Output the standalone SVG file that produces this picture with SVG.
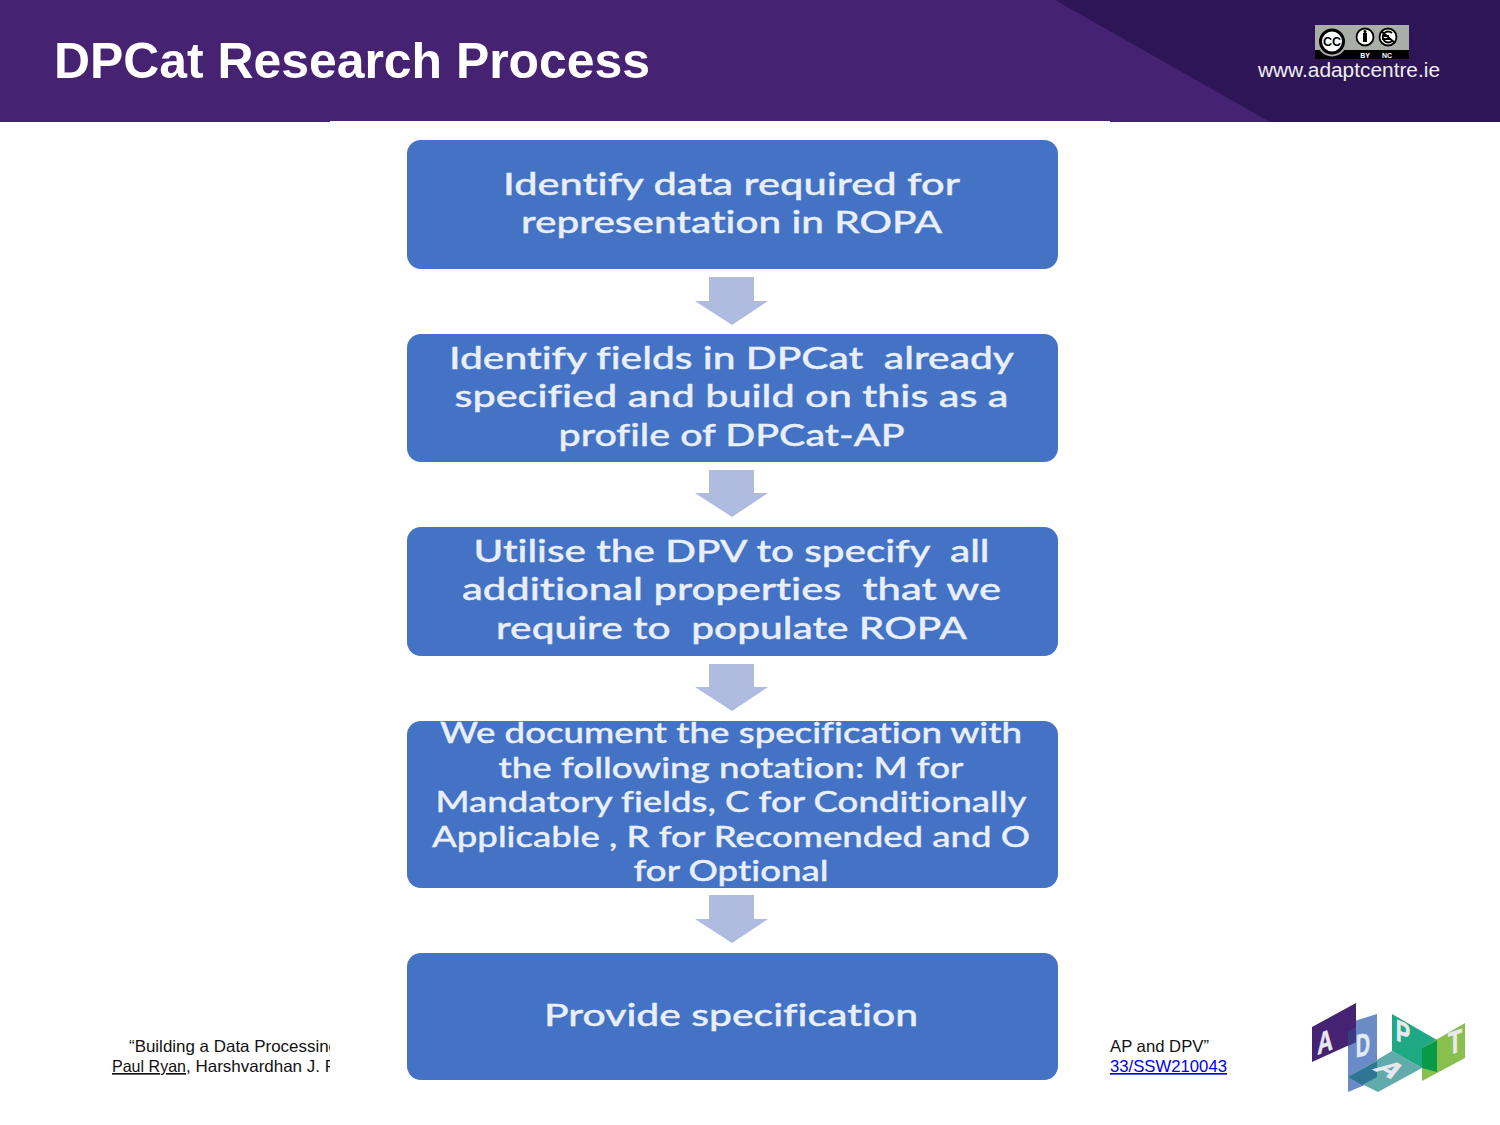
<svg xmlns="http://www.w3.org/2000/svg" width="1500" height="1125" viewBox="0 0 1500 1125">
<style>
.box{fill:#4472c4}
.arr{fill:#afbcdf}
.t{font-family:"Lato","Open Sans",sans-serif;fill:#e9eff8;text-anchor:middle;font-weight:500;white-space:pre;stroke:#e9eff8;stroke-width:.35;font-variant-ligatures:none}
.b{font-size:31px}
.s{font-size:28.5px}
.f{font-family:"Liberation Sans",Arial,sans-serif;font-size:16.5px;fill:#111}
.lg{font-family:"Liberation Sans",sans-serif;font-weight:700;fill:#e8e8ee;text-anchor:middle;stroke:#e8e8ee;stroke-width:.6}
.cct{font-family:"Liberation Sans",sans-serif;font-weight:700;text-anchor:middle}
</style>
<defs><clipPath id="lc"><rect x="0" y="1000" width="330" height="100"/></clipPath></defs>
<rect width="1500" height="1125" fill="#fff"/>
<g id="header">
<rect width="1500" height="122" fill="#452372"/>
<polygon points="1055,0 1500,0 1500,122 1270,122" fill="#2e1558"/>
<text x="54" y="78" font-family="Liberation Sans,Arial,sans-serif" font-weight="700" font-size="49.5" fill="#fff" textLength="596" lengthAdjust="spacingAndGlyphs">DPCat Research Process</text>
<text x="1258" y="77" font-family="Liberation Sans,Arial,sans-serif" font-size="20" fill="#eee" textLength="182" lengthAdjust="spacingAndGlyphs">www.adaptcentre.ie</text>
</g>
<g id="cc-badge">
<rect x="1315" y="25" width="94" height="34" fill="#a9aea8"/>
<rect x="1315" y="50" width="94" height="9" fill="#000"/>
<circle cx="1332" cy="41.500" r="15" fill="#a9aea8"/>
<circle cx="1332" cy="41.500" r="11.500" fill="#fff" stroke="#000" stroke-width="3"/>
<text class="cct" x="1332" y="46" font-size="12.500">CC</text>
<circle cx="1365" cy="37" r="8.500" fill="#fff" stroke="#000" stroke-width="1.800"/>
<rect x="1363" y="33" width="4" height="9" fill="#000"/>
<circle cx="1365" cy="31.500" r="1.500" fill="#000"/>
<circle cx="1388" cy="37" r="8.500" fill="#fff" stroke="#000" stroke-width="1.800"/>
<path d="M1392 33a5.500 5.500 0 1 0 0 8M1382 36h7M1382 39h7M1381 31l14 12" fill="none" stroke="#000" stroke-width="1.800"/>
<text class="cct" x="1365" y="57.500" font-size="7" fill="#fff">BY</text>
<text class="cct" x="1387" y="57.500" font-size="7" fill="#fff">NC</text>
</g>
<g id="footer-left" clip-path="url(#lc)">
<text class="f" x="129" y="1052" textLength="209" lengthAdjust="spacingAndGlyphs">“Building a Data Processing</text>
<text class="f" x="112" y="1072" text-decoration="underline" textLength="74" lengthAdjust="spacingAndGlyphs">Paul Ryan</text>
<text class="f" x="186" y="1072" textLength="150" lengthAdjust="spacingAndGlyphs">, Harshvardhan J. P</text>
</g>
<g id="footer-right">
<text class="f" x="1110" y="1052" textLength="99" lengthAdjust="spacingAndGlyphs">AP and DPV”</text>
<text class="f" x="1110" y="1072" style="fill:#0000ee" text-decoration="underline" textLength="117" lengthAdjust="spacingAndGlyphs">33/SSW210043</text>
</g>
<g id="connectors">
<polygon class="arr" points="709,277 754,277 754,301 768,301 732,325 695,301 709,301"/>
<polygon class="arr" points="709,470 754,470 754,493 768,493 732,517 695,493 709,493"/>
<polygon class="arr" points="709,664 754,664 754,687 768,687 732,711 695,687 709,687"/>
<polygon class="arr" points="709,895 754,895 754,919 768,919 732,943 695,919 709,919"/>
</g>
<g id="node1">
<rect class="box" x="407" y="140" width="651" height="129" rx="14"/>
<text class="t b" x="731.500" y="195" textLength="457" lengthAdjust="spacingAndGlyphs">Identify data required for</text>
<text class="t b" x="731.500" y="233" textLength="421" lengthAdjust="spacingAndGlyphs">representation in ROPA</text>
</g>
<g id="node2">
<rect class="box" x="407" y="334" width="651" height="128" rx="14"/>
<text class="t b" x="731.500" y="369" textLength="565" lengthAdjust="spacingAndGlyphs">Identify fields in DPCat  already</text>
<text class="t b" x="731.500" y="407" textLength="554" lengthAdjust="spacingAndGlyphs">specified and build on this as a</text>
<text class="t b" x="731.500" y="446" textLength="346" lengthAdjust="spacingAndGlyphs">profile of DPCat-AP</text>
</g>
<g id="node3">
<rect class="box" x="407" y="527" width="651" height="129" rx="14"/>
<text class="t b" x="731.500" y="562" textLength="516" lengthAdjust="spacingAndGlyphs">Utilise the DPV to specify  all</text>
<text class="t b" x="731.500" y="600" textLength="539" lengthAdjust="spacingAndGlyphs">additional properties  that we</text>
<text class="t b" x="731.500" y="639" textLength="471" lengthAdjust="spacingAndGlyphs">require to  populate ROPA</text>
</g>
<g id="node4">
<rect class="box" x="407" y="721" width="651" height="167" rx="14"/>
<text class="t s" x="731" y="743" textLength="582" lengthAdjust="spacingAndGlyphs">We document the specification with</text>
<text class="t s" x="731" y="778" textLength="465" lengthAdjust="spacingAndGlyphs">the following notation: M for</text>
<text class="t s" x="731" y="812" textLength="591" lengthAdjust="spacingAndGlyphs">Mandatory fields, C for Conditionally</text>
<text class="t s" x="731" y="847" textLength="598" lengthAdjust="spacingAndGlyphs">Applicable , R for Recomended and O</text>
<text class="t s" x="731" y="881" textLength="195" lengthAdjust="spacingAndGlyphs">for Optional</text>
</g>
<g id="node5">
<rect class="box" x="407" y="953" width="651" height="127" rx="14"/>
<text class="t b" x="731" y="1026" textLength="374" lengthAdjust="spacingAndGlyphs">Provide specification</text>
</g>
<g id="adapt-logo">
<polygon points="1348,1023 1377,1014 1377,1080 1348,1092" fill="#6a8bc6"/>
<polygon points="1348,1077 1392,1051 1422,1068 1378,1092" fill="#62abab"/>
<polygon points="1348,1077 1377,1061 1377,1077 1362,1085" fill="#2f7594"/>
<polygon points="1312,1027 1356,1003 1356,1042 1312,1062" fill="#452372"/>
<polygon points="1348,1031 1356,1027 1356,1042 1348,1046" fill="#3a3a82"/>
<polygon points="1392,1014 1437,1040 1422,1048 1422,1068 1392,1051" fill="#1ea884"/>
<polygon points="1422,1048 1465,1023 1465,1058 1422,1081" fill="#88bf4d"/>
<polygon points="1422,1048 1437,1040 1437,1072 1422,1068" fill="#089a48"/>
<text class="lg" font-size="30" transform="translate(1325 1052) skewY(-20) scale(.72 1)">A</text>
<text class="lg" font-size="32" transform="translate(1363 1056) skewY(-12) scale(.62 1)" style="fill:#e4e9f4;stroke:#e4e9f4">D</text>
<text class="lg" font-size="30" transform="translate(1403 1043) skewY(22) scale(.72 1)">P</text>
<text class="lg" font-size="32" transform="translate(1455 1053) skewY(-18) scale(.72 1)">T</text>
<text class="lg" font-size="30" transform="matrix(.9 .45 -.85 .5 1381.500 1074)">A</text>
</g>
<rect id="top-edge" x="330" y="121" width="780" height="1" fill="#fff"/>
</svg>
